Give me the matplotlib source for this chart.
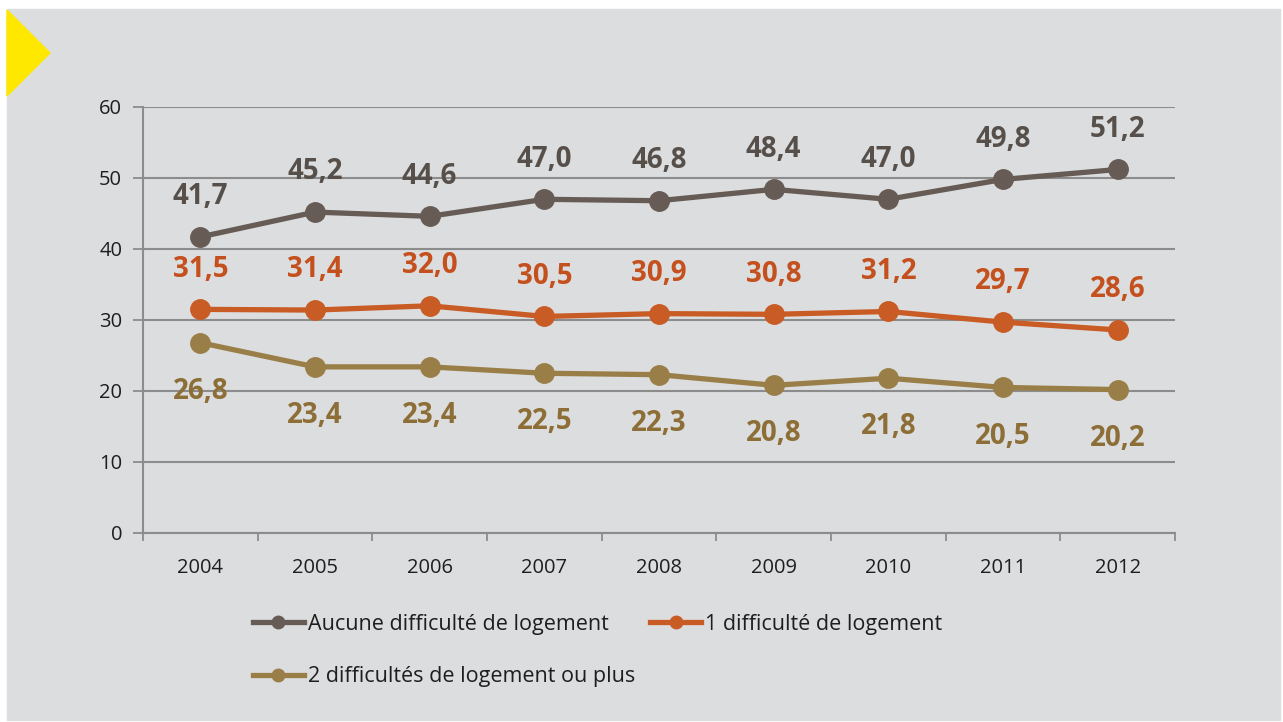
import matplotlib.pyplot as plt
from matplotlib.patches import Rectangle, Polygon
from matplotlib.lines import Line2D
import numpy as np

plt.rcParams['font.family'] = ['Open Sans', 'DejaVu Sans']

years = ['2004', '2005', '2006', '2007', '2008', '2009', '2010', '2011', '2012']
aucune = [41.7, 45.2, 44.6, 47.0, 46.8, 48.4, 47.0, 49.8, 51.2]
une = [31.5, 31.4, 32.0, 30.5, 30.9, 30.8, 31.2, 29.7, 28.6]
deux = [26.8, 23.4, 23.4, 22.5, 22.3, 20.8, 21.8, 20.5, 20.2]
names = ['Aucune difficulté de logement', '1 difficulté de logement',
         '2 difficultés de logement ou plus']

line_cols = ['#665c55', '#c95b24', '#9a7e48']
text_cols = ['#57504a', '#c4501d', '#8c6e36']
# label offset in points (above for the two first series, below for the last)
offsets = [29, 29, -35]

W, H = 1283, 722
fig = plt.figure(figsize=(W / 100, H / 100), dpi=100, facecolor='white')

# grey panel and yellow arrow
fig.patches.append(Rectangle((7 / W, 1 - 720 / H), (1280 - 7) / W, (720 - 9) / H,
                             transform=fig.transFigure, color='#dcdddf', zorder=-2))
fig.patches.append(Polygon([(7 / W, 1 - 10 / H), (50 / W, 1 - 53 / H), (7 / W, 1 - 96 / H)],
                           closed=True, transform=fig.transFigure, color='#ffe800', zorder=-1))

ax = fig.add_axes([143 / W, 1 - 533 / H, (1175 - 143) / W, (533 - 107) / H])
ax.set_facecolor('none')

x = np.arange(len(years))
handles = []
for vals, lc, tc, off, name in zip([aucune, une, deux], line_cols, text_cols, offsets, names):
    ax.plot(x, vals, color=lc, lw=3.8, marker='o', ms=14, zorder=3)
    for xi, v in zip(x, vals):
        ax.annotate(f'{v:.1f}'.replace('.', ','), (xi, v), xytext=(0, off),
                    textcoords='offset points', ha='center', va='center',
                    fontsize=20, fontweight='bold', color=tc)
    handles.append(Line2D([], [], color=lc, lw=3.8, marker='o', ms=9, label=name))

ax.set_xlim(-0.5, len(years) - 0.5)
ax.set_ylim(0, 60)
ax.set_yticks(range(0, 61, 10))
ax.set_xticks(x)
ax.set_xticklabels(years)
ax.set_xticks(np.arange(-0.5, len(years), 1), minor=True)
ax.tick_params(axis='x', which='major', length=0, pad=18, labelsize=14.5, labelcolor='#1e1e1e')
ax.tick_params(axis='x', which='minor', length=6, width=1.3, color='#8c8c8c')
ax.tick_params(axis='y', length=7, width=1.3, color='#8c8c8c', pad=8,
               labelsize=14.5, labelcolor='#1e1e1e')
ax.yaxis.grid(True, color='#8c8c8c', lw=1.5)
ax.set_axisbelow(True)
for s in ['top', 'right']:
    ax.spines[s].set_visible(False)
for s in ['left', 'bottom']:
    ax.spines[s].set_color('#8c8c8c')
    ax.spines[s].set_linewidth(1.5)

# legend: row 1 = gray, orange ; row 2 = tan
leg = fig.legend([handles[0], handles[2], handles[1]],
                 [names[0], names[2], names[1]],
                 loc='upper left', bbox_to_anchor=(253 / W, 1 - 614 / H),
                 ncol=2, frameon=False, fontsize=15.5, borderpad=0, borderaxespad=0,
                 handlelength=2.35, handletextpad=0.2, columnspacing=0.7,
                 labelspacing=1.45)
for t in leg.get_texts():
    t.set_color('#1e1e1e')

fig.savefig('out.png', dpi=100, facecolor='white')
